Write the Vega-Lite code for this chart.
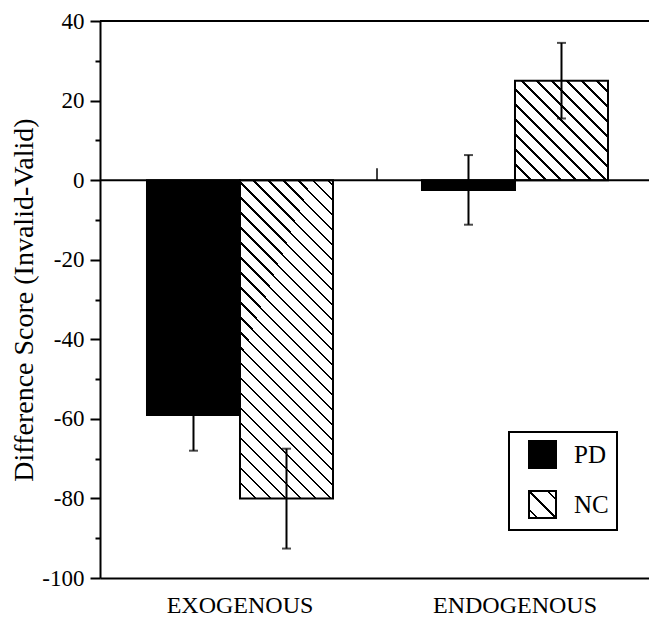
{
  "$schema": "https://vega.github.io/schema/vega-lite/v6.json",
  "width": 549,
  "height": 557,
  "autosize": {"type": "none"},
  "padding": {"left": 100, "top": 21, "right": 0, "bottom": 40},
  "background": "white",
  "config": {"view": {"stroke": null}, "font": "Liberation Serif", "legend": {"strokeWidth": 2}},
  "resolve": {"axis": {"y": "independent"}},
  "data": {
    "values": [
      {"group": "EXOGENOUS", "type": "PD", "score": -59, "lo": -68, "hi": -50},
      {"group": "EXOGENOUS", "type": "NC", "score": -80, "lo": -92.6, "hi": -67.5},
      {"group": "ENDOGENOUS", "type": "PD", "score": -2.5, "lo": -11.2, "hi": 6.3},
      {"group": "ENDOGENOUS", "type": "NC", "score": 25, "lo": 15.5, "hi": 34.5}
    ]
  },
  "layer": [
    {
      "mark": {"type": "bar", "stroke": "black", "strokeWidth": 2},
      "encoding": {
        "x": {
          "field": "group", "type": "nominal", "sort": ["EXOGENOUS", "ENDOGENOUS"],
          "scale": {"paddingInner": 0.3236, "paddingOuter": 0.16, "align": 0.534},
          "axis": {
            "title": null, "labelAngle": 0, "ticks": false, "tickSize": 0,
            "domainColor": "black", "domainWidth": 2,
            "labelFont": "Liberation Serif", "labelFontSize": 24, "labelColor": "black", "labelPadding": 15
          }
        },
        "xOffset": {"field": "type", "type": "nominal", "sort": ["PD", "NC"], "scale": {"paddingInner": 0, "paddingOuter": 0}},
        "y": {
          "field": "score", "type": "quantitative",
          "scale": {"domain": [-100, 40], "nice": false, "zero": false},
          "axis": {
            "orient": "left",
            "title": "Difference Score (Invalid-Valid)",
            "values": [-100, -80, -60, -40, -20, 0, 20, 40],
            "labelOverlap": false,
            "labelExpr": "'' + datum.value",
            "tickSize": 10, "tickWidth": 2, "tickColor": "black",
            "domainColor": "black", "domainWidth": 2, "grid": false,
            "labelFont": "Liberation Serif", "labelFontSize": 23, "labelColor": "black", "labelPadding": 6,
            "titleFont": "Liberation Serif", "titleFontSize": 28, "titleFontWeight": "normal", "titleColor": "black", "titlePadding": 3
          }
        },
        "fill": {
          "condition": [
            {
              "test": "datum.type === 'NC' && datum.group === 'EXOGENOUS'",
              "value": {
                "gradient": "linear", "x1": 0, "y1": 1, "x2": 0.508, "y2": -0.737,
                "stops": [
                  {"offset": 0, "color": "#000"}, {"offset": 0.004, "color": "#000"}, {"offset": 0.004, "color": "#fff"}, {"offset": 0.025, "color": "#fff"},
                  {"offset": 0.025, "color": "#000"}, {"offset": 0.029, "color": "#000"}, {"offset": 0.029, "color": "#fff"}, {"offset": 0.05, "color": "#fff"},
                  {"offset": 0.05, "color": "#000"}, {"offset": 0.054, "color": "#000"}, {"offset": 0.054, "color": "#fff"}, {"offset": 0.075, "color": "#fff"},
                  {"offset": 0.075, "color": "#000"}, {"offset": 0.079, "color": "#000"}, {"offset": 0.079, "color": "#fff"}, {"offset": 0.1, "color": "#fff"},
                  {"offset": 0.1, "color": "#000"}, {"offset": 0.104, "color": "#000"}, {"offset": 0.104, "color": "#fff"}, {"offset": 0.125, "color": "#fff"},
                  {"offset": 0.125, "color": "#000"}, {"offset": 0.129, "color": "#000"}, {"offset": 0.129, "color": "#fff"}, {"offset": 0.15, "color": "#fff"},
                  {"offset": 0.15, "color": "#000"}, {"offset": 0.154, "color": "#000"}, {"offset": 0.154, "color": "#fff"}, {"offset": 0.175, "color": "#fff"},
                  {"offset": 0.175, "color": "#000"}, {"offset": 0.179, "color": "#000"}, {"offset": 0.179, "color": "#fff"}, {"offset": 0.2, "color": "#fff"},
                  {"offset": 0.2, "color": "#000"}, {"offset": 0.204, "color": "#000"}, {"offset": 0.204, "color": "#fff"}, {"offset": 0.225, "color": "#fff"},
                  {"offset": 0.225, "color": "#000"}, {"offset": 0.229, "color": "#000"}, {"offset": 0.229, "color": "#fff"}, {"offset": 0.25, "color": "#fff"},
                  {"offset": 0.25, "color": "#000"}, {"offset": 0.254, "color": "#000"}, {"offset": 0.254, "color": "#fff"}, {"offset": 0.275, "color": "#fff"},
                  {"offset": 0.275, "color": "#000"}, {"offset": 0.279, "color": "#000"}, {"offset": 0.279, "color": "#fff"}, {"offset": 0.3, "color": "#fff"},
                  {"offset": 0.3, "color": "#000"}, {"offset": 0.304, "color": "#000"}, {"offset": 0.304, "color": "#fff"}, {"offset": 0.325, "color": "#fff"},
                  {"offset": 0.325, "color": "#000"}, {"offset": 0.329, "color": "#000"}, {"offset": 0.329, "color": "#fff"}, {"offset": 0.35, "color": "#fff"},
                  {"offset": 0.35, "color": "#000"}, {"offset": 0.354, "color": "#000"}, {"offset": 0.354, "color": "#fff"}, {"offset": 0.375, "color": "#fff"},
                  {"offset": 0.375, "color": "#000"}, {"offset": 0.379, "color": "#000"}, {"offset": 0.379, "color": "#fff"}, {"offset": 0.4, "color": "#fff"},
                  {"offset": 0.4, "color": "#000"}, {"offset": 0.404, "color": "#000"}, {"offset": 0.404, "color": "#fff"}, {"offset": 0.425, "color": "#fff"},
                  {"offset": 0.425, "color": "#000"}, {"offset": 0.429, "color": "#000"}, {"offset": 0.429, "color": "#fff"}, {"offset": 0.45, "color": "#fff"},
                  {"offset": 0.45, "color": "#000"}, {"offset": 0.454, "color": "#000"}, {"offset": 0.454, "color": "#fff"}, {"offset": 0.475, "color": "#fff"},
                  {"offset": 0.475, "color": "#000"}, {"offset": 0.479, "color": "#000"}, {"offset": 0.479, "color": "#fff"}, {"offset": 0.5, "color": "#fff"},
                  {"offset": 0.5, "color": "#000"}, {"offset": 0.504, "color": "#000"}, {"offset": 0.504, "color": "#fff"}, {"offset": 0.525, "color": "#fff"},
                  {"offset": 0.525, "color": "#000"}, {"offset": 0.529, "color": "#000"}, {"offset": 0.529, "color": "#fff"}, {"offset": 0.55, "color": "#fff"},
                  {"offset": 0.55, "color": "#000"}, {"offset": 0.554, "color": "#000"}, {"offset": 0.554, "color": "#fff"}, {"offset": 0.575, "color": "#fff"},
                  {"offset": 0.575, "color": "#000"}, {"offset": 0.579, "color": "#000"}, {"offset": 0.579, "color": "#fff"}, {"offset": 0.6, "color": "#fff"},
                  {"offset": 0.6, "color": "#000"}, {"offset": 0.604, "color": "#000"}, {"offset": 0.604, "color": "#fff"}, {"offset": 0.625, "color": "#fff"},
                  {"offset": 0.625, "color": "#000"}, {"offset": 0.629, "color": "#000"}, {"offset": 0.629, "color": "#fff"}, {"offset": 0.65, "color": "#fff"},
                  {"offset": 0.65, "color": "#000"}, {"offset": 0.654, "color": "#000"}, {"offset": 0.654, "color": "#fff"}, {"offset": 0.675, "color": "#fff"},
                  {"offset": 0.675, "color": "#000"}, {"offset": 0.679, "color": "#000"}, {"offset": 0.679, "color": "#fff"}, {"offset": 0.7, "color": "#fff"}
                ]
              }
            },
            {
              "test": "datum.type === 'NC' && datum.group === 'ENDOGENOUS'",
              "value": {
                "gradient": "linear", "x1": 0, "y1": 1, "x2": 3.006, "y2": -2.216,
                "stops": [
                  {"offset": 0, "color": "#000"}, {"offset": 0.004, "color": "#000"}, {"offset": 0.004, "color": "#fff"}, {"offset": 0.025, "color": "#fff"},
                  {"offset": 0.025, "color": "#000"}, {"offset": 0.029, "color": "#000"}, {"offset": 0.029, "color": "#fff"}, {"offset": 0.05, "color": "#fff"},
                  {"offset": 0.05, "color": "#000"}, {"offset": 0.054, "color": "#000"}, {"offset": 0.054, "color": "#fff"}, {"offset": 0.075, "color": "#fff"},
                  {"offset": 0.075, "color": "#000"}, {"offset": 0.079, "color": "#000"}, {"offset": 0.079, "color": "#fff"}, {"offset": 0.1, "color": "#fff"},
                  {"offset": 0.1, "color": "#000"}, {"offset": 0.104, "color": "#000"}, {"offset": 0.104, "color": "#fff"}, {"offset": 0.125, "color": "#fff"},
                  {"offset": 0.125, "color": "#000"}, {"offset": 0.129, "color": "#000"}, {"offset": 0.129, "color": "#fff"}, {"offset": 0.15, "color": "#fff"},
                  {"offset": 0.15, "color": "#000"}, {"offset": 0.154, "color": "#000"}, {"offset": 0.154, "color": "#fff"}, {"offset": 0.175, "color": "#fff"},
                  {"offset": 0.175, "color": "#000"}, {"offset": 0.179, "color": "#000"}, {"offset": 0.179, "color": "#fff"}, {"offset": 0.2, "color": "#fff"},
                  {"offset": 0.2, "color": "#000"}, {"offset": 0.204, "color": "#000"}, {"offset": 0.204, "color": "#fff"}, {"offset": 0.225, "color": "#fff"},
                  {"offset": 0.225, "color": "#000"}, {"offset": 0.229, "color": "#000"}, {"offset": 0.229, "color": "#fff"}, {"offset": 0.25, "color": "#fff"},
                  {"offset": 0.25, "color": "#000"}, {"offset": 0.254, "color": "#000"}, {"offset": 0.254, "color": "#fff"}, {"offset": 0.275, "color": "#fff"},
                  {"offset": 0.275, "color": "#000"}, {"offset": 0.279, "color": "#000"}, {"offset": 0.279, "color": "#fff"}, {"offset": 0.3, "color": "#fff"},
                  {"offset": 0.3, "color": "#000"}, {"offset": 0.304, "color": "#000"}, {"offset": 0.304, "color": "#fff"}, {"offset": 0.325, "color": "#fff"}
                ]
              }
            }
          ],
          "field": "type", "type": "nominal",
          "scale": {
            "domain": ["PD", "NC"],
            "range": [
              "#000000",
              {"expr": "{gradient: 'linear', x1: 0, y1: 1, x2: 1, y2: 0, stops: [{offset: 0, color: '#fff'}, {offset: 0.13, color: '#fff'}, {offset: 0.13, color: '#000'}, {offset: 0.17, color: '#000'}, {offset: 0.17, color: '#fff'}, {offset: 0.48, color: '#fff'}, {offset: 0.48, color: '#000'}, {offset: 0.52, color: '#000'}, {offset: 0.52, color: '#fff'}, {offset: 0.83, color: '#fff'}, {offset: 0.83, color: '#000'}, {offset: 0.87, color: '#000'}, {offset: 0.87, color: '#fff'}, {offset: 1, color: '#fff'}]}"}
            ]
          },
          "legend": {
            "orient": "none", "legendX": 409, "legendY": 411, "title": null, "direction": "vertical",
            "symbolType": "square", "symbolSize": 729, "symbolStrokeColor": "black", "symbolStrokeWidth": 2,
            "symbolOffset": 11,
            "labelFont": "Liberation Serif", "labelFontSize": 25, "labelColor": "black", "labelOffset": 17,
            "labelExpr": "datum.label + '  '",
            "rowPadding": 15, "padding": 8,
            "strokeColor": "black"
          }
        }
      }
    },
    {
      "mark": {"type": "rule", "color": "black", "strokeWidth": 2},
      "encoding": {
        "x": {"field": "group", "type": "nominal", "sort": ["EXOGENOUS", "ENDOGENOUS"]},
        "xOffset": {"field": "type", "type": "nominal", "sort": ["PD", "NC"]},
        "y": {
          "field": "lo", "type": "quantitative",
          "axis": {
            "orient": "left", "title": null, "labels": false, "domain": false, "grid": false,
            "values": [-90, -70, -50, -30, -10, 10, 30],
            "tickSize": 5, "tickWidth": 2, "tickColor": "black"
          }
        },
        "y2": {"field": "hi"}
      }
    },
    {
      "mark": {"type": "tick", "orient": "horizontal", "size": 9, "thickness": 2, "color": "black"},
      "encoding": {
        "x": {"field": "group", "type": "nominal", "sort": ["EXOGENOUS", "ENDOGENOUS"]},
        "xOffset": {"field": "type", "type": "nominal", "sort": ["PD", "NC"]},
        "y": {"field": "lo", "type": "quantitative", "axis": null}
      }
    },
    {
      "mark": {"type": "tick", "orient": "horizontal", "size": 9, "thickness": 2, "color": "black"},
      "encoding": {
        "x": {"field": "group", "type": "nominal", "sort": ["EXOGENOUS", "ENDOGENOUS"]},
        "xOffset": {"field": "type", "type": "nominal", "sort": ["PD", "NC"]},
        "y": {"field": "hi", "type": "quantitative", "axis": null}
      }
    },
    {
      "data": {"values": [{}]},
      "mark": {"type": "rule", "color": "black", "strokeWidth": 2},
      "encoding": {"y": {"datum": 0, "axis": null}}
    },
    {
      "data": {"values": [{}]},
      "mark": {"type": "rule", "color": "black", "strokeWidth": 2},
      "encoding": {"y": {"datum": 40, "axis": null}}
    },
    {
      "data": {"values": [{}]},
      "mark": {"type": "rule", "color": "black", "strokeWidth": 1.5},
      "encoding": {
        "x": {"datum": "EXOGENOUS", "bandPosition": 1.2366},
        "y": {"datum": 0, "axis": null},
        "y2": {"datum": 3}
      }
    }
  ]
}
